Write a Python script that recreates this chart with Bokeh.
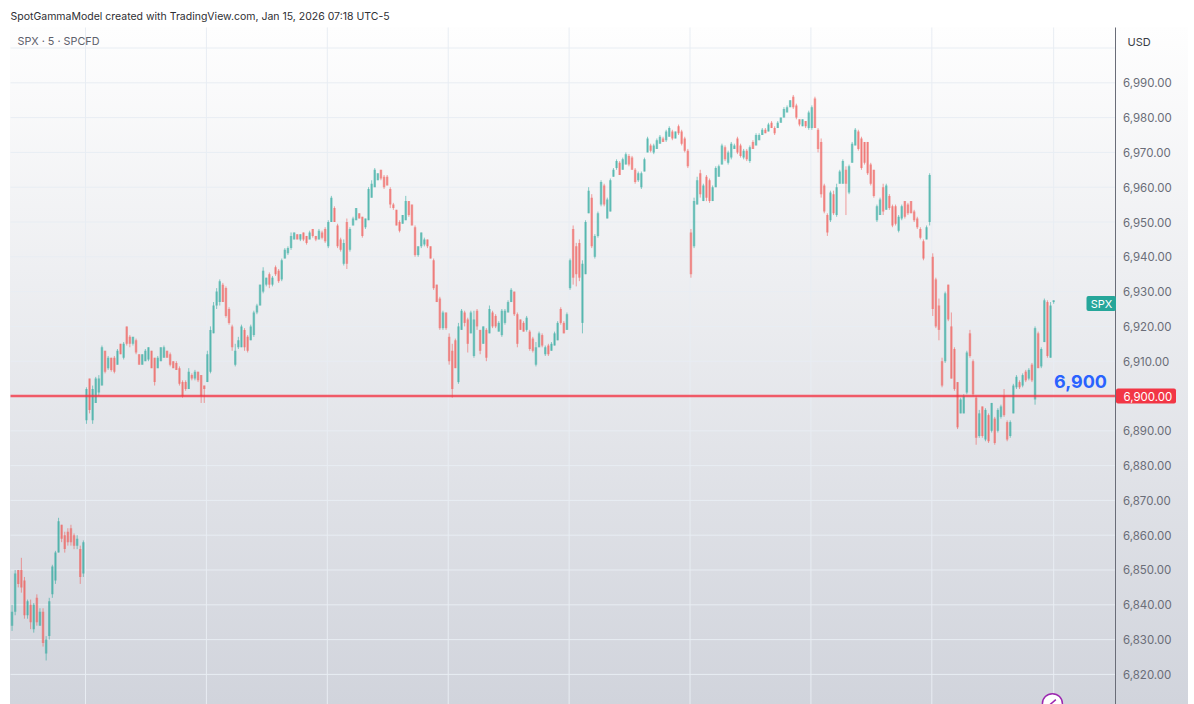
from bokeh.embed import file_html
from bokeh.models import BoxAnnotation, FixedTicker, InlineStyleSheet, Label, NumeralTickFormatter, Range1d
from bokeh.plotting import figure
from bokeh.resources import INLINE

# Each inner list is one session (index, price).
highs = [
 [6840,6850,6850,6853.5,6848,6841.5,6841.5,6840.5,6843,6839,6839,6831,6842,6851.5,6855.5,6865,6863,6861,6862,6863,6860.5,6860,6857,6858.5],
 [6902.5,6905,6903,6905.5,6906,6914.5,6913,6911.5,6911,6911.5,6913.5,6915,6915.5,6920,6917.5,6917,6916.5,6912,6912,6913.5,6914,6913,6911,6911.5,6914,6914.5,6913,6912.5,6910,6910,6908.5,6904.5,6904.5,6908,6906.5,6907.5,6907,6906,6903],
 [6913,6920,6927,6931,6933.5,6932.5,6931.5,6925.5,6920.5,6915,6917,6920.5,6919.5,6917.5,6920.5,6924.5,6926.5,6932,6937,6934,6935.5,6934.5,6937.5,6936.5,6939.5,6942.5,6943,6947,6947,6946.5,6946.5,6947,6946,6947.5,6948,6946,6948,6947.5,6948.5],
 [6950.5,6957.5,6954.5,6949.5,6945.5,6945,6951,6948.5,6951.5,6954,6952.5,6951.5,6951,6960,6962,6965.5,6964,6965,6963.5,6963.5,6960,6955.5,6953.5,6950.5,6952,6957.5,6956,6955,6949,6943,6947,6945.5,6945,6943,6939.5,6932,6928.5,6924.5,6924],
 [6918,6915,6916.5,6921,6925,6924.5,6922.5,6924.5,6924.5,6925,6919,6920,6919.5,6926,6924.5,6923.5,6921.5,6925,6925,6927.5,6931,6930,6924,6922,6921.5,6923,6919,6917,6915.5,6918.5,6918,6914.5,6915,6915.5,6918.5,6921.5,6925.5,6921.5,6924],
 [6939.5,6949,6944,6945,6939,6950.5,6960,6958,6946.5,6953,6962,6961,6957,6962.5,6965.5,6968,6967.5,6968.5,6970,6969.5,6969,6965.5,6964.5,6964.5,6968.5,6974.5,6972.5,6972.5,6974,6975,6974.5,6976.5,6977.5,6976.5,6976,6978,6976.5,6974.5,6971],
 [6948,6957,6963,6965,6961,6963.5,6962.5,6960.5,6966,6966.5,6972.5,6972,6970.5,6973,6972.5,6974.5,6972.5,6971,6971,6972,6973.5,6975.5,6975.5,6977,6977,6978.5,6979,6977.5,6979,6980,6983,6983.5,6985,6986.5,6984,6979.5,6979.5,6979,6982],
 [6983.5,6986,6977,6974,6961,6952.5,6959,6959,6961,6965,6968,6966,6966.5,6973,6977,6976.5,6974.5,6973,6973,6967,6965,6955,6957,6961,6961,6958,6955,6955,6952,6955,6956,6955.5,6956,6953.5,6951.5,6948.5,6945,6949,6964,6941],
 [6934,6928,6911,6930,6932,6924,6914,6904,6899.5,6900.5,6913,6919,6910.5,6900,6896,6897,6896.5,6895,6898,6894,6896.5,6897.5,6902,6893,6893,6903.5,6906,6904.5,6906.5,6907.5,6908,6909.5,6920,6918.5,6914,6928,6927.5,6927,6927.5],
]
lows = [
 [6832.5,6837,6845,6843.5,6836,6836,6833,6832,6834,6834,6828,6824,6830,6842,6846,6855,6858,6855,6857,6857,6856,6856,6846,6848],
 [6892,6895,6892,6898,6900,6903,6906.5,6907.5,6907,6906.5,6909,6912,6910.5,6914.5,6914,6914.5,6912,6909,6909,6910,6910,6908,6903,6908,6910,6911,6911,6908.5,6908,6907.5,6903,6899.5,6901.5,6902,6904.5,6904.5,6904,6898,6898],
 [6904,6906.5,6918,6925,6926,6927,6922.5,6920.5,6913,6908.5,6913.5,6914,6913,6912.5,6916,6917,6923.5,6926,6929.5,6931.5,6931,6931.5,6934.5,6932.5,6933,6939.5,6940.5,6942,6945,6945,6944.5,6944.5,6943.5,6945,6945.5,6944.5,6945,6945,6944],
 [6942.5,6950,6950,6942.5,6941.5,6937.5,6936.5,6941.5,6949,6950.5,6951,6945.5,6948,6950.5,6957,6960,6962,6962,6959.5,6960.5,6954,6953.5,6949,6947,6949.5,6950.5,6951.5,6949,6940,6940,6942.5,6943,6942.5,6939.5,6930.5,6927,6919,6919,6919],
 [6909,6899.5,6908,6903.5,6919,6920,6912.5,6918,6911,6919,6912,6915,6910,6918,6919.5,6919.5,6918.5,6917,6920.5,6924,6927,6923,6914,6919,6918.5,6918.5,6913,6912.5,6908.5,6914,6914,6911.5,6911.5,6913,6914.5,6916,6920.5,6918,6919],
 [6930.5,6932,6931.5,6933,6918,6935,6952.5,6942.5,6939.5,6945.5,6954.5,6954.5,6951,6953,6963,6965,6963.5,6965,6966.5,6966,6965,6961,6961.5,6959.5,6964.5,6970,6970,6969.5,6971,6972.5,6973,6973,6974.5,6973.5,6974,6975,6972,6970,6965.5],
 [6934,6942.5,6955,6957,6956,6956,6955.5,6956,6960,6963,6966.5,6967.5,6966.5,6968,6971,6969.5,6968.5,6968,6967.5,6967,6971,6972,6973.5,6975,6975.5,6976,6977,6975,6977,6978.5,6980,6981.5,6983,6982.5,6979.5,6977.5,6977.5,6977,6976.5],
 [6976.5,6977,6970,6957,6952.5,6946,6950,6952,6951.5,6961,6961,6952,6958,6967,6972,6970.5,6965,6966.5,6963.5,6960.5,6957,6950,6952,6952,6953.5,6953.5,6948.5,6949,6947,6950.5,6951,6952,6952.5,6950,6948,6945,6939,6945,6949,6923],
 [6919.5,6916,6902.5,6909.5,6921.5,6905,6901.5,6890.5,6895,6895,6900.5,6911,6900,6886,6888,6888,6887,6886.5,6889.5,6886,6889.5,6893.5,6894,6887,6888,6895,6902,6902,6902.5,6904,6904.5,6904,6897.5,6908,6908,6915.5,6911,6911,6926.5],
]
opens = [
 [6834,6838,6850,6850,6847,6837,6840,6833,6842,6834,6838,6826,6831,6843,6847,6855,6863,6860,6861,6862,6860,6857,6856,6849],
 [6893,6905,6893,6898,6901,6903,6913,6908,6911,6911,6909,6915,6911,6920,6917,6915,6916,6912,6909,6910,6910.5,6913,6911,6908,6910,6911,6913,6912,6910,6909.5,6908,6904,6904,6902,6906,6905,6907,6906,6903],
 [6904,6907,6918,6926,6927,6932,6931,6925,6920,6909,6914,6914,6919,6917,6916,6917.5,6924,6926,6930,6932,6935,6932,6937,6936,6933.5,6939.5,6941,6942.5,6945,6946.5,6945,6947,6946,6945,6948,6946,6945,6947,6948],
 [6943,6950,6954,6949,6945,6938,6950,6942,6949,6950.5,6952.5,6951.5,6948.5,6950.5,6957,6960,6962,6965,6963,6963,6959.5,6955,6953.5,6950,6949.5,6950.5,6956,6955,6948.5,6940.5,6943,6943.5,6945,6943,6939,6932,6928,6919.5,6924],
 [6917,6913,6916,6904,6919,6924,6922,6918,6911.5,6924.5,6919,6915,6919,6918,6924,6923,6918.5,6917.5,6921,6924,6927,6930,6923.5,6922,6921,6919,6918.5,6916.5,6909,6914,6917.5,6912,6914.5,6913,6914.5,6916,6925,6921,6919],
 [6931,6948,6943,6944,6921,6935,6952.5,6957,6940,6946,6955,6960.5,6951,6953,6963,6965.5,6967,6965,6966.5,6969,6968.5,6965,6962,6960,6964.5,6970,6972,6970,6971,6972.5,6974,6973.5,6974.5,6976,6974,6977.5,6976,6974,6970.5],
 [6947,6943,6955,6964,6956,6963,6962,6956,6960,6963,6966.5,6971.5,6967,6968.5,6971,6974,6972,6968.5,6970.5,6967.5,6973,6972,6973.5,6975,6976.5,6976,6978.5,6977,6977,6978.5,6980,6981.5,6983,6986,6983.5,6979.5,6977.5,6979,6977],
 [6977,6985.5,6976.5,6973,6960.5,6952,6950.5,6958,6952,6961,6961,6965,6958.5,6967,6972,6976,6974,6973,6973,6966.5,6965,6950.5,6952,6960,6953.5,6957.5,6954.5,6954.5,6947.5,6951,6956,6955,6956,6953,6951,6948,6944.5,6945,6950,6940],
 [6933.5,6926,6910,6910,6932,6920,6913.5,6904,6895,6895,6901,6918,6910,6899.5,6888.5,6897,6887.5,6894.5,6890,6893.5,6890,6894,6900,6892.5,6888.5,6895,6902.5,6904,6903,6907,6905,6909,6899,6918,6908.5,6915.5,6927,6911,6927],
]
closes = [
 [6838,6849,6846,6845,6837,6841,6835,6840,6835,6838,6829,6830,6841,6851,6855,6864,6859,6856,6858,6858,6857,6859,6848,6858],
 [6902,6896,6902,6905,6905,6914,6907,6911,6907.5,6907,6913,6912,6915,6915,6915,6917,6912.5,6909,6912,6913,6914,6908,6904,6911,6914,6914,6911,6909,6908,6907.5,6903.5,6900,6902,6907,6905,6907,6904.5,6900,6902],
 [6912,6919,6926,6930,6933,6927,6923,6921,6914,6913,6916,6920,6914,6913,6920,6924,6926,6932,6936,6934,6932,6934,6935,6933,6939,6942,6942.5,6946,6947,6945,6946.5,6945,6944,6947,6946,6945,6947.5,6945.5,6944.5],
 [6950,6957,6950,6943,6942,6944,6938,6948,6951,6954,6951,6946,6951,6959.5,6961,6965,6964,6962.5,6960,6960.5,6955,6954,6949,6947.5,6952,6956,6952,6949,6940.5,6943,6947,6945,6943,6939.5,6931,6927,6919.5,6924,6919.5],
 [6910,6902,6908,6920,6924.5,6921,6915,6924,6922,6920,6913,6920,6911,6925,6920,6920,6921,6924.5,6924.5,6927,6930.5,6923.5,6915,6919,6918.5,6922.5,6913.5,6913,6914,6918,6914.5,6914,6912,6915,6918,6921,6921,6918,6923.5],
 [6939,6934,6935,6934,6938,6950,6959,6943,6946,6952.5,6961.5,6955,6956.5,6962,6965,6967.5,6963.5,6968,6969.5,6966.5,6965,6961.5,6964,6964,6968,6974,6970.5,6972,6973.5,6974.5,6973,6976,6977,6974,6976,6975.5,6972.5,6970.5,6966],
 [6935,6956,6962,6958,6960.5,6957,6956,6960,6965.5,6966,6972,6968,6970,6972.5,6972,6970,6969,6970.5,6968,6971.5,6971,6975,6975,6976.5,6975.5,6978,6977,6975.5,6978.5,6980,6982.5,6983,6985,6983,6980,6978,6979.5,6977.5,6981.5],
 [6983,6977,6971,6958,6953,6947,6958.5,6952.5,6960,6964.5,6967.5,6961,6966,6972.5,6976.5,6971,6965.5,6967,6964,6961,6957.5,6954.5,6956.5,6953,6960.5,6954,6949,6949.5,6951.5,6954.5,6951.5,6952.5,6952.5,6950.5,6948.5,6945.5,6939.5,6948.5,6963.5,6925],
 [6920,6919,6903,6929.5,6922,6905,6902,6891,6899,6900,6912.5,6911.5,6900.5,6888,6895,6888.5,6896,6887,6898,6886.5,6896,6897,6894.5,6887.5,6892.5,6903,6905.5,6902.5,6906,6904.5,6907.5,6904.5,6919.5,6908,6913.5,6927.5,6911.5,6926,6927.5],
]
session_ticks = [23.7, 62.7, 101.7, 140.7, 179.7, 218.7, 257.7, 296.7, 336.0]
price_ticks = [6820, 6830, 6840, 6850, 6860, 6870, 6880, 6890, 6910, 6920, 6930, 6940, 6950, 6960, 6970, 6980, 6990]
grid_levels = [6820, 6830, 6840, 6850, 6860, 6870, 6880, 6890, 6900, 6910, 6920, 6930, 6940, 6950, 6960, 6970, 6980, 6990, 7000]
level_price = 6900
level_text = "6,900"
level_axis_text = "6,900.00"
last_text = "SPX"
title_text = "SpotGammaModel created with TradingView.com, Jan 15, 2026 07:18 UTC-5"
legend_text = "SPX · 5 · SPCFD"
currency_text = "USD"

for group in (highs, lows, opens, closes):
    assert [len(g) for g in group] == [len(g) for g in highs], [len(g) for g in group]

flat = lambda g: [v for s in g for v in s]
H, L, O, C = flat(highs), flat(lows), flat(opens), flat(closes)
X = list(range(len(H)))
UP, DOWN = "#26a69a", "#ef5350"
colors = [UP if c >= o else DOWN for o, c in zip(O, C)]
tops = [max(o, c) for o, c in zip(O, C)]
bots = [min(o, c) for o, c in zip(O, C)]

FONT = "Inter"
W, HT = 1188, 704
# the plot frame fills the whole canvas, so that annotations can be placed anywhere
PANE_LEFT, PANE_RIGHT = -0.5, 356.1
PANE_BOTTOM, PANE_TOP = 6811.35, 7005.9
p = figure(width=W, height=HT, output_backend="svg", toolbar_location=None,
           x_range=Range1d(-3.726, 379.5), y_range=Range1d(PANE_BOTTOM, 7013.65),
           y_axis_location="right", x_axis_location=None,
           min_border_left=0, min_border_right=0, min_border_top=0, min_border_bottom=0,
           border_fill_color=None, background_fill_color=None, outline_line_color=None)
p.stylesheets = [InlineStyleSheet(css=""":host{background-color:#fff;
 background-image:linear-gradient(180deg,#fefefe 0%,#d1d4dc 100%);
 background-repeat:no-repeat;background-position:10px 27px;background-size:1178px 677px;}""")]

p.xgrid.visible = False
p.ygrid.visible = False
GRID = "#e8edf3"
p.segment(session_ticks, [PANE_BOTTOM] * len(session_ticks), session_ticks, [PANE_TOP] * len(session_ticks),
          line_color=GRID, line_width=1, level="underlay")
p.segment([PANE_LEFT] * len(grid_levels), grid_levels, [PANE_RIGHT] * len(grid_levels), grid_levels,
          line_color=GRID, line_width=1, level="underlay")

ax = p.yaxis[0]
ax.fixed_location = PANE_RIGHT
ax.bounds = (PANE_BOTTOM, PANE_TOP)
ax.ticker = FixedTicker(ticks=price_ticks)
ax.formatter = NumeralTickFormatter(format="0,0.00")
ax.axis_line_color = "#6a6d78"
ax.major_tick_line_color = None
ax.minor_tick_line_color = None
ax.major_tick_out = 0
ax.major_tick_in = 0
ax.major_label_text_color = "#6a6d78"
ax.major_label_text_font = FONT
ax.major_label_text_font_size = "11.5px"
ax.major_label_standoff = 7

p.segment(X, L, X, H, color=colors, line_width=1, line_alpha=0.55)
p.vbar(x=X, bottom=bots, top=tops, width=0.8, fill_color=colors, fill_alpha=0.5, line_color=None)
p.segment([PANE_LEFT], [level_price], [PANE_RIGHT], [level_price], line_color="#f23645", line_alpha=0.8, line_width=2.4)
p.scatter([335.6], [6811.6], size=20, marker="circle", fill_color="#ffffff", line_color="#9c27b0", line_width=1.5)
p.scatter([335.6], [6811.9], size=9, marker="dash", angle=0.7, line_color="#9c27b0", line_width=1.5)

def sx(px):
    return px
def sy(py):
    return HT - py

def box(x0, x1, y0, y1, color, radius=2):
    p.add_layout(BoxAnnotation(left=sx(x0), right=sx(x1), top=sy(y0), bottom=sy(y1),
                               left_units="screen", right_units="screen", top_units="screen", bottom_units="screen",
                               fill_color=color, fill_alpha=1, line_color=None, border_radius=radius))

def label(text, x, y, color, size, style="normal", align="left"):
    p.add_layout(Label(x=sx(x), y=sy(y), x_units="screen", y_units="screen", text=text, text_color=color,
                       text_font=FONT, text_font_size=size, text_font_style=style, text_align=align,
                       text_baseline="middle"))

box(1086, 1115.5, 295.5, 310.5, "#26a69a")
box(1115.5, 1175.5, 388, 403, "#f23645")
label(title_text, 10, 16, "#2e2e33", "10.5px")
label(legend_text, 17, 40.5, "#5d606b", "10.8px")
label(currency_text, 1127, 41, "#3a3d45", "11px")
label(last_text, 1101, 303, "#ffffff", "11px", align="center")
label(level_axis_text, 1123, 395.5, "#ffffff", "11.5px")
label(level_text, 1053.5, 380.5, "#2962ff", "18px", style="bold")

open("out.html", "w").write(file_html(p, INLINE))
